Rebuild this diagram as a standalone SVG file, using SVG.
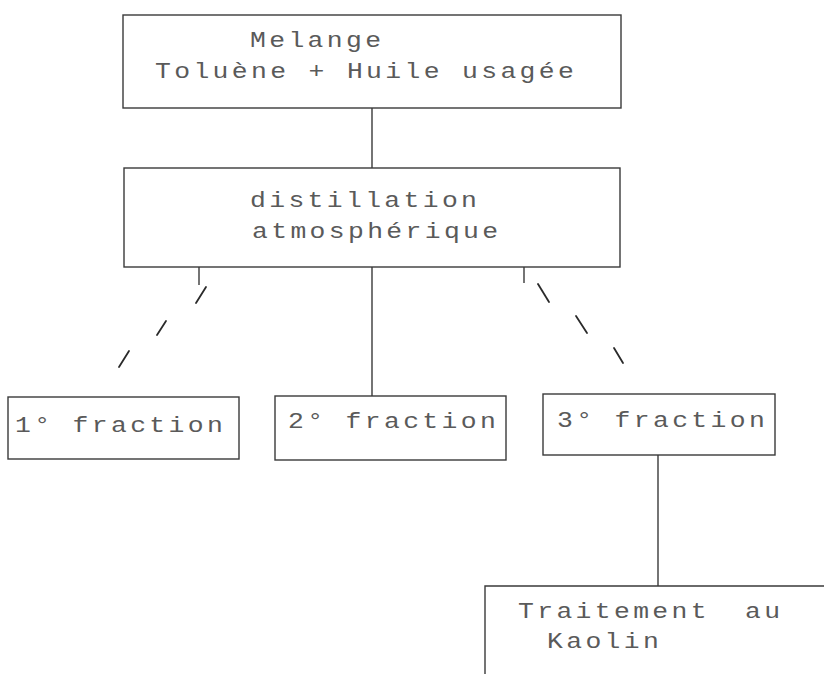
<svg xmlns="http://www.w3.org/2000/svg" width="824" height="674" viewBox="0 0 824 674">
  <style>
    .box { fill: none; stroke: #3a3a3a; stroke-width: 1.4; }
    .link { fill: none; stroke: #3a3a3a; stroke-width: 1.4; }
    .dash { fill: none; stroke: #2a2a2a; stroke-width: 1.8; stroke-linecap: round; }
    /* dot-matrix style lettering: wide monospace cells, about 19.2px per character */
    .label { font-family: "Liberation Mono", "DejaVu Sans Mono", monospace; font-size: 22px; letter-spacing: 2.8px; fill: #5a5a5a; }
  </style>
  <rect x="0" y="0" width="824" height="674" fill="#ffffff"/>

  <g id="connectors">
    <line class="link" x1="372" y1="108" x2="372" y2="168"/>
    <line class="link" x1="372" y1="267" x2="372" y2="396"/>
    <line class="link" x1="199" y1="267" x2="199" y2="285"/>
    <line class="dash" x1="206" y1="287" x2="196" y2="303"/>
    <line class="dash" x1="166" y1="321" x2="157" y2="335"/>
    <line class="dash" x1="129" y1="351" x2="119" y2="367"/>
    <line class="link" x1="524" y1="267" x2="524" y2="283"/>
    <line class="dash" x1="538" y1="284" x2="549" y2="302"/>
    <line class="dash" x1="576" y1="316" x2="587" y2="333"/>
    <line class="dash" x1="614" y1="348" x2="623" y2="363"/>
    <line class="link" x1="658" y1="455" x2="658" y2="586"/>
  </g>

  <g id="melange">
    <rect class="box" x="123" y="15" width="498" height="93"/>
    <text class="label" transform="translate(250 47) scale(1.2 1)">Melange</text>
    <text class="label" transform="translate(155 78) scale(1.2 1)">Toluène + Huile usagée</text>
  </g>

  <g id="distillation">
    <rect class="box" x="124" y="168" width="496" height="99"/>
    <text class="label" transform="translate(250 207) scale(1.2 1)">distillation</text>
    <text class="label" transform="translate(252 238) scale(1.2 1)">atmosphérique</text>
  </g>

  <g id="fraction1">
    <rect class="box" x="8" y="397" width="231" height="62"/>
    <text class="label" transform="translate(15 432) scale(1.2 1)">1° fraction</text>
  </g>

  <g id="fraction2">
    <rect class="box" x="275" y="396" width="231" height="64"/>
    <text class="label" transform="translate(288 428) scale(1.2 1)">2° fraction</text>
  </g>

  <g id="fraction3">
    <rect class="box" x="543" y="394" width="232" height="61"/>
    <text class="label" transform="translate(557 427) scale(1.2 1)">3° fraction</text>
  </g>

  <g id="kaolin">
    <path class="box" d="M826 586 H485 V676"/>
    <text class="label" transform="translate(518 618) scale(1.2 1)">Traitement</text>
    <text class="label" transform="translate(745 618) scale(1.2 1)">au</text>
    <text class="label" transform="translate(547 648) scale(1.2 1)">Kaolin</text>
  </g>
</svg>
